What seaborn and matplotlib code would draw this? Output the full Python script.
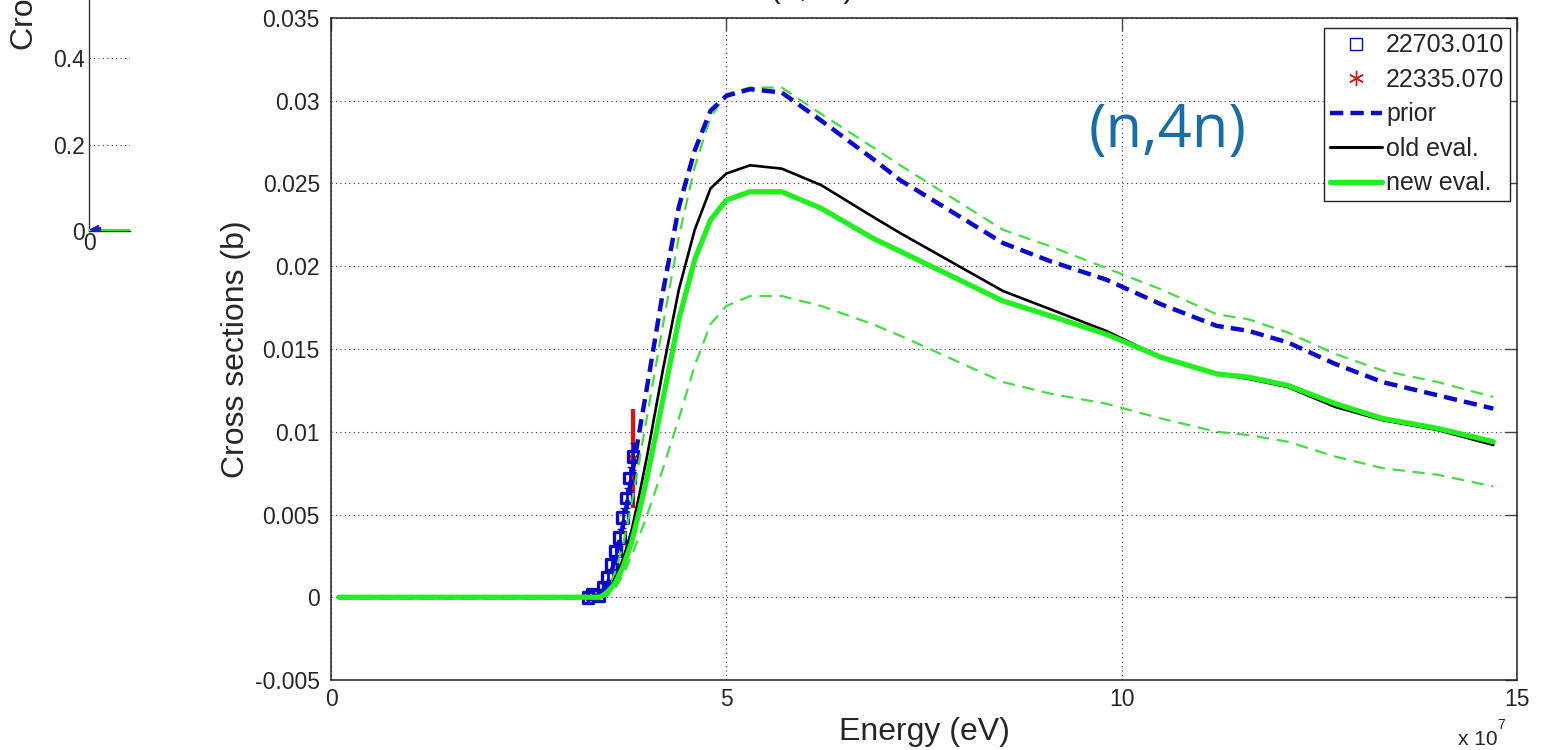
import numpy as np
import matplotlib
matplotlib.use("Agg")
import matplotlib.pyplot as plt
import seaborn as sns
from matplotlib.lines import Line2D

# ---------------- data (energy in units of 1e7 eV, cross sections in b) ----------------
energy = [0.1, 1.0, 2.0, 3.0, 3.3, 3.4, 3.5, 3.6, 3.7, 3.8, 3.9, 4.0, 4.2, 4.4, 4.6,
          4.8, 5.0, 5.3, 5.7, 6.2, 6.85, 7.2, 8.5, 9.1, 9.8, 10.5, 11.2, 11.6, 12.1,
          12.7, 13.3, 14.0, 14.7]
prior = [0, 0, 0, 0, 0, 0.0002, 0.0008, 0.0024, 0.0045, 0.0072, 0.0100, 0.0128, 0.0185,
         0.0236, 0.0270, 0.0294, 0.0303, 0.0307, 0.0305, 0.0288, 0.0265, 0.0252, 0.0214,
         0.0203, 0.0192, 0.0177, 0.0164, 0.0161, 0.0154, 0.0141, 0.0130, 0.0122, 0.0114]
old_eval = [0, 0, 0, 0, 0, 0, 0.0003, 0.0012, 0.0024, 0.0040, 0.0062, 0.0086, 0.0138,
            0.0186, 0.0222, 0.0247, 0.0256, 0.0261, 0.0259, 0.0249, 0.0230, 0.0220, 0.0185,
            0.0174, 0.0161, 0.0145, 0.0135, 0.0132, 0.0127, 0.0115, 0.0107, 0.0101, 0.0092]
new_eval = [0, 0, 0, 0, 0, 0, 0.0003, 0.0009, 0.0019, 0.0033, 0.0052, 0.0073, 0.0120,
            0.0168, 0.0204, 0.0228, 0.0240, 0.0245, 0.0245, 0.0235, 0.0217, 0.0209, 0.0179,
            0.0170, 0.0159, 0.0145, 0.0135, 0.0133, 0.0128, 0.0117, 0.0108, 0.0102, 0.0094]
new_upper = [0, 0, 0, 0, 0, 0, 0.0005, 0.0016, 0.0033, 0.0056, 0.0083, 0.0110, 0.0165,
             0.0218, 0.0260, 0.0290, 0.0304, 0.0308, 0.0308, 0.0292, 0.0272, 0.0261, 0.0222,
             0.0212, 0.0199, 0.0186, 0.0171, 0.0168, 0.0160, 0.0147, 0.0137, 0.0130, 0.0121]
new_lower = [0, 0, 0, 0, 0, 0, 0.0001, 0.0006, 0.0014, 0.0025, 0.0037, 0.0050, 0.0078,
             0.0108, 0.0140, 0.0165, 0.0176, 0.0182, 0.0182, 0.0176, 0.0165, 0.0158, 0.0130,
             0.0123, 0.0117, 0.0108, 0.0100, 0.0098, 0.0094, 0.0085, 0.0078, 0.0074, 0.0067]

exp1_energy = [3.25, 3.31, 3.38, 3.44, 3.50, 3.55, 3.60, 3.65, 3.69, 3.74, 3.78, 3.82]
exp1_xs = [0.0, 0.0002, 0.0001, 0.0006, 0.0012, 0.0020, 0.0028, 0.0036, 0.0048,
           0.0060, 0.0072, 0.0085]
exp1_err = [0.0003, 0.0003, 0.0003, 0.0003, 0.0004, 0.0004, 0.0005, 0.0005, 0.0006,
            0.0006, 0.0007, 0.0008]
exp2_energy = [3.82]
exp2_xs = [0.0084]
exp2_err = [0.0030]

left_x = [0.0, 1.0]
left_y = [0.0, 0.0]
left_pts_x = [0.12, 0.18]
left_pts_y = [0.005, 0.0]

ytick_vals = [-0.005, 0, 0.005, 0.01, 0.015, 0.02, 0.025, 0.03, 0.035]
ytick_labels = ["-0.005", "0", "0.005", "0.01", "0.015", "0.02", "0.025", "0.03", "0.035"]
xtick_vals = [0, 5, 10, 15]
xtick_labels = ["0", "5", "10", "15"]
left_ytick_vals = [0, 0.2, 0.4]
left_ytick_labels = ["0", "0.2", "0.4"]
legend_labels = ["22703.010", "22335.070", "prior", "old eval.", "new eval."]

# ---------------- style ----------------
sns.set_theme(style="white")
plt.rcParams["font.family"] = ["Liberation Sans", "DejaVu Sans"]

BLUE = "#0a0ac8"
BLACK = "#000000"
GREEN = "#22ee22"
GREEN_D = "#44dd44"
RED = "#dd1111"

W, H = 1541, 750
fig = plt.figure(figsize=(W / 100, H / 100), dpi=100)
fig.patch.set_facecolor("white")

# ---------------- partially visible left subplot ----------------
axL = fig.add_axes([89 / W, (H - 231) / H, 41 / W, 432.5 / H])
axL.set_xlim(0, 1)
axL.set_ylim(0, 1)
axL.set_facecolor("white")
sns.lineplot(x=left_x, y=left_y, ax=axL, color=GREEN, linewidth=3, zorder=3)
axL.plot(left_pts_x, left_pts_y, linestyle="none", marker="<", color="#2020c0",
         markersize=6, zorder=4)
axL.set_yticks(left_ytick_vals)
axL.set_yticklabels(left_ytick_labels)
axL.set_xticks([0])
axL.set_xticklabels(["0"])
axL.tick_params(direction="in", length=8, width=1, color="#444444",
                labelsize=16.5, pad=3)
axL.tick_params(axis="x", pad=1)
axL.grid(True, axis="y", linestyle=(0, (1, 3)), color="#333333", linewidth=0.8)
for s in ["top", "right"]:
    axL.spines[s].set_visible(False)
for s in ["left", "bottom"]:
    axL.spines[s].set_color("#333333")
    axL.spines[s].set_linewidth(1)
fig.text(25 / W, (H - 50) / H, "Cross sections (b)", rotation=90, ha="center",
         va="bottom", fontsize=23)

# ---------------- main axes ----------------
ax = fig.add_axes([331 / W, (H - 680) / H, 1186 / W, 662 / H])
ax.set_facecolor("white")

E = np.array(energy) * 1e7

ax.errorbar(np.array(exp2_energy) * 1e7, exp2_xs, yerr=exp2_err, fmt="none",
            ecolor=RED, elinewidth=3, capsize=0, zorder=2)
ax.plot(np.array(exp2_energy) * 1e7, exp2_xs, linestyle="none", marker=(6, 2, 0),
        color=RED, markersize=10, markeredgewidth=1.5, zorder=2)
ax.errorbar(np.array(exp1_energy) * 1e7, exp1_xs, yerr=exp1_err, fmt="none",
            ecolor=BLUE, elinewidth=2, capsize=2, zorder=3)
sns.scatterplot(x=np.array(exp1_energy) * 1e7, y=exp1_xs, ax=ax, marker="s",
                facecolor="none", edgecolor=BLUE, linewidth=2.4, s=60, zorder=3)

sns.lineplot(x=E, y=new_upper, ax=ax, color=GREEN_D, linewidth=1.6,
             linestyle=(0, (5.5, 3.5)), zorder=4)
sns.lineplot(x=E, y=new_lower, ax=ax, color=GREEN_D, linewidth=1.6,
             linestyle=(0, (5.5, 3.5)), zorder=4)
sns.lineplot(x=E, y=prior, ax=ax, color=BLUE, linewidth=3.2,
             linestyle=(0, (3, 1.6)), zorder=5)
sns.lineplot(x=E, y=old_eval, ax=ax, color=BLACK, linewidth=1.9, zorder=6)
sns.lineplot(x=E, y=new_eval, ax=ax, color=GREEN, linewidth=3.8, zorder=7)

ax.set_xlim(0, 15e7)
ax.set_ylim(-0.005, 0.035)
ax.set_xticks(np.array(xtick_vals) * 1e7)
ax.set_xticklabels(xtick_labels)
ax.set_yticks(ytick_vals)
ax.set_yticklabels(ytick_labels)
ax.tick_params(direction="in", length=9, width=1, color="#444444", top=True,
               right=True, labelsize=16.5, pad=8)
ax.tick_params(axis="x", pad=6)
ax.grid(True, linestyle=(0, (1, 3)), color="#333333", linewidth=0.8)
for s in ax.spines.values():
    s.set_color("#222222")
    s.set_linewidth(1.1)
    s.set_visible(True)

ax.set_xlabel("Energy (eV)", fontsize=23, labelpad=4)
ax.set_ylabel("Cross sections (b)", fontsize=23, labelpad=3)

# exponent text
fig.text(1458 / W, (H - 745) / H, "x 10", fontsize=15, ha="left", va="baseline")
fig.text(1497 / W, (H - 729) / H, "7", fontsize=10, ha="left", va="baseline")

# title (mostly cut off at top, as in the source image)
fig.text(812 / W, (H + 3) / H, "(n,4n)", fontsize=23, ha="center", va="baseline")

# annotation
ax.text(0.705, 0.83, "(n,4n)", transform=ax.transAxes,
        fontsize=43, color="#1a6ca6", family=["Open Sans", "DejaVu Sans"],
        ha="center", va="center")

# legend
handles = [
    Line2D([], [], linestyle="none", marker="s", markerfacecolor="none",
           markeredgecolor=BLUE, markersize=8, markeredgewidth=1),
    Line2D([], [], linestyle="none", marker=(6, 2, 0), color=RED, markersize=11,
           markeredgewidth=1),
    Line2D([], [], color=BLUE, linewidth=3.2, linestyle=(0, (3, 1.6))),
    Line2D([], [], color=BLACK, linewidth=2.2),
    Line2D([], [], color=GREEN, linewidth=3.8),
]
leg = ax.legend(handles, legend_labels, loc="upper right",
                bbox_to_anchor=(1510 / W, (H - 28) / H),
                bbox_transform=fig.transFigure, borderaxespad=0, fontsize=18,
                frameon=True, fancybox=False, shadow=False, framealpha=1,
                handlelength=2.1, handletextpad=0.15, labelspacing=0.42,
                borderpad=0.22, numpoints=1)
leg.get_frame().set_edgecolor("#222222")
leg.get_frame().set_linewidth(1.0)
leg.set_zorder(10)

fig.savefig("out.png", dpi=100, facecolor="white")
